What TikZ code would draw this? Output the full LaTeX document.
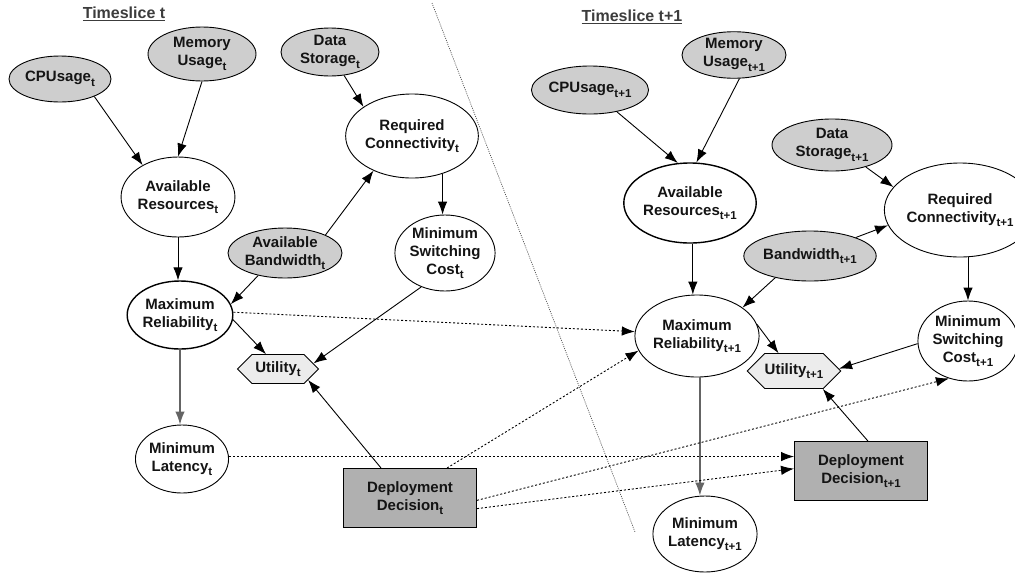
\documentclass[tikz,border=0pt]{standalone}
\usepackage{fontspec}
\setmainfont{Liberation Sans}
\usetikzlibrary{shapes.geometric,shapes.symbols,arrows.meta,calc}

\definecolor{obsgray}{RGB}{206,206,206}
\definecolor{decgray}{RGB}{176,176,176}
\definecolor{utilgray}{RGB}{236,236,236}
\definecolor{titlegray}{RGB}{60,60,60}
\definecolor{linkgray}{RGB}{100,100,100}

% subscript used in the node labels
\newcommand\sbs[1]{\raisebox{-4.5pt}{\fontsize{11.5}{11.5}\selectfont #1}}

\begin{document}
\begin{tikzpicture}[x=1pt,y=-1pt,
  every node/.style={font=\bfseries\fontsize{15}{18}\selectfont, align=center,
                     inner sep=0pt, text=black!92},
  hidden/.style={ellipse, draw, line width=0.9pt, fill=white},
  observed/.style={ellipse, draw, line width=0.9pt, fill=obsgray},
  decision/.style={rectangle, draw, line width=1pt, fill=decgray},
  utility/.style={signal, signal to=east and west, draw, line width=0.9pt, fill=utilgray},
  slicetitle/.style={font=\bfseries\fontsize{16}{18}\selectfont, text=titlegray},
  arr/.style={-{Latex[length=13pt,width=9.5pt]}, line width=0.9pt},
  dotarr/.style={arr, dash pattern=on 2pt off 2pt},
  greyarr/.style={arr, draw=linkgray, line width=1.4pt}
]
\useasboundingbox (0,0) rectangle (1015,574);

% boundary between the two time slices
\draw[black!70, line width=0.7pt, dash pattern=on 1pt off 1.2pt] (432,3) -- (635,532);

% ---------- time slice t ----------
\node[slicetitle] (tst) at (124,14) {\underline{Timeslice t}};
\node[observed, minimum width=102pt, minimum height=46pt] (cput) at (60,79) {CPUsage\sbs{t}};
\node[observed, minimum width=108pt, minimum height=54pt] (memt) at (202,54) {Memory\\Usage\sbs{t}};
\node[observed, minimum width=98pt, minimum height=48pt] (dst) at (330,52) {Data\\Storage\sbs{t}};
\node[hidden, minimum width=110pt, minimum height=84pt] (rct) at (412,136) {Required\\Connectivity\sbs{t}};
\node[hidden, minimum width=98pt, minimum height=80pt] (art) at (178,197) {Available\\Resources\sbs{t}};
\node[observed, minimum width=114pt, minimum height=50pt] (bwt) at (285,253) {Available\\Bandwidth\sbs{t}};
\node[hidden, minimum width=92pt, minimum height=76pt] (msct) at (445,253) {Minimum\\Switching\\Cost\sbs{t}};
\node[hidden, line width=1.4pt, minimum width=84pt, minimum height=68pt] (mrt) at (180,315) {Maximum\\Reliability\sbs{t}};
\node[utility, minimum width=81pt, minimum height=29pt] (ut) at (278,369) {Utility\sbs{t}};
\node[hidden, minimum width=84pt, minimum height=68pt] (mlt) at (182,459) {Minimum\\Latency\sbs{t}};
\node[decision, minimum width=133pt, minimum height=59pt] (ddt) at (410,498) {Deployment\\Decision\sbs{t}};

% ---------- time slice t+1 ----------
\node[slicetitle] (tsn) at (632,17) {\underline{Timeslice t+1}};
\node[observed, minimum width=104pt, minimum height=48pt] (cpun) at (590,90) {CPUsage\sbs{t+1}};
\node[observed, minimum width=104pt, minimum height=44pt] (memn) at (734,55) {Memory\\Usage\sbs{t+1}};
\node[observed, minimum width=120pt, minimum height=52pt] (dsn) at (832,145) {Data\\Storage\sbs{t+1}};
\node[hidden, line width=1.4pt, minimum width=98pt, minimum height=80pt] (arn) at (690,203) {Available\\Resources\sbs{t+1}};
\node[hidden, minimum width=116pt, minimum height=94pt] (rcn) at (960,210) {Required\\Connectivity\sbs{t+1}};
\node[observed, minimum width=114pt, minimum height=50pt] (bwn) at (810,256) {Bandwidth\sbs{t+1}};
\node[hidden, minimum width=98pt, minimum height=82pt] (mrn) at (697,336) {Maximum\\Reliability\sbs{t+1}};
\node[hidden, minimum width=94pt, minimum height=80pt] (mscn) at (968,341) {Minimum\\Switching\\Cost\sbs{t+1}};
\node[utility, minimum width=93pt, minimum height=35pt] (un) at (794,371) {Utility\sbs{t+1}};
\node[decision, minimum width=133pt, minimum height=59pt] (ddn) at (861,471) {Deployment\\Decision\sbs{t+1}};
\node[hidden, minimum width=94pt, minimum height=76pt] (mln) at (705,534) {Minimum\\Latency\sbs{t+1}};

% ---------- dependencies within slice t ----------
\draw[arr] (cput.-27) -- (art.138);
\draw[arr] (memt.south) -- (art.north);
\draw[arr] (dst.-59) -- (rct.149);
\draw[arr] (bwt.24) -- (rct.222);
\draw[arr] (rct.-51) -- (rct.-51 |- msct.north);
\draw[arr] (art.south) -- (art.south |- mrt.north);
\draw[arr] (bwt.220) -- (mrt.12);
\draw[arr] (mrt.-5) -- (ut.129);
\draw[arr] (msct.235) -- (ut.9);
\draw[arr] (ddt.134) -- (ut.-20);
\draw[greyarr] (mrt.south) -- (mrt.south |- mlt.north);

% ---------- dependencies within slice t+1 ----------
\draw[arr] (cpun.-39) -- (arn.107);
\draw[arr] (memn.-77) -- (arn.81);
\draw[arr] (dsn.-33) -- (rcn.161);
\draw[arr] (bwn.22) -- (rcn.192);
\draw[arr] (mscn.north |- rcn.south) -- (mscn.north);
\draw[arr] (arn.-86) -- (arn.-86 |- mrn.north);
\draw[arr] (bwn.212) -- (mrn.32);
\draw[arr] (mrn.11) -- (un.131);
\draw[arr] (mscn.183) -- (un.3);
\draw[arr] (ddn.77) -- (un.-32);
\draw[greyarr] (mrn.-86) -- (mrn.-86 |- mln.north);

% ---------- temporal links ----------
\draw[dotarr] (mrt.3) -- (mrn.176);
\draw[dotarr] (mlt.3) -- (mlt.3 -| ddn.west);
\draw[dotarr] (ddt.39) -- (mrn.194);
\draw[dotarr] (ddt.-2) -- (mscn.243);
\draw[dotarr] (ddt.-9) -- (ddn.178);
\end{tikzpicture}
\end{document}
